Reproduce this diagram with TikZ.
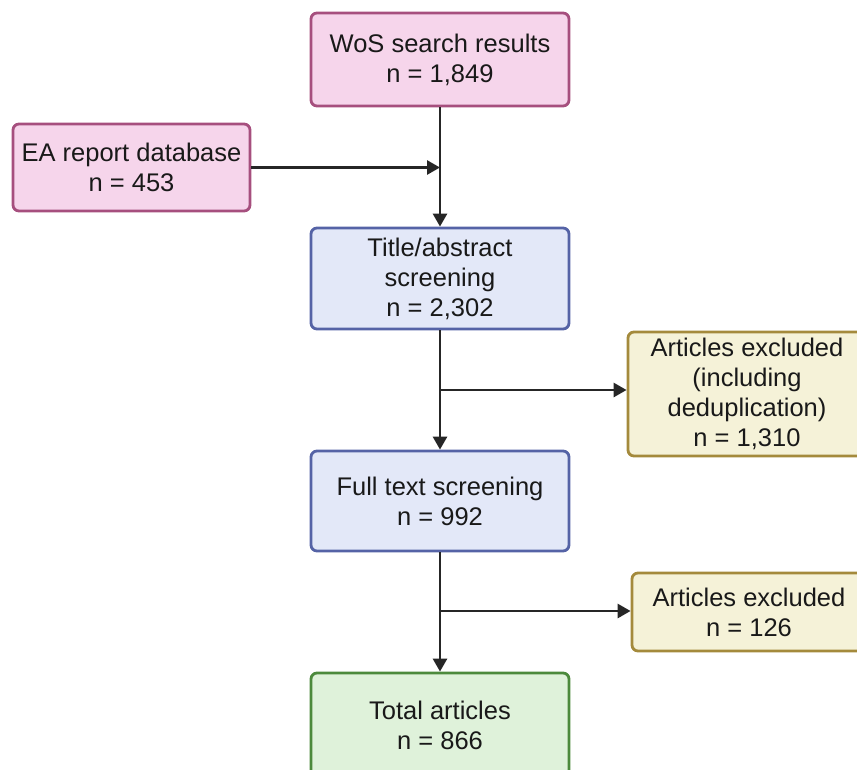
\documentclass[tikz,border=0pt]{standalone}
\usepackage{fontspec}
\setmainfont{Liberation Sans}
\usetikzlibrary{arrows.meta}
\definecolor{pinkfill}{HTML}{F6D5EB}
\definecolor{pinkdraw}{HTML}{A64F7E}
\definecolor{bluefill}{HTML}{E3E8F8}
\definecolor{bluedraw}{HTML}{5563A6}
\definecolor{yelfill}{HTML}{F5F2D8}
\definecolor{yeldraw}{HTML}{A48A3C}
\definecolor{grnfill}{HTML}{DFF2DA}
\definecolor{grndraw}{HTML}{4C8A3C}
\definecolor{linec}{HTML}{262626}
\tikzset{
  box/.style={draw, line width=2.8pt, rounded corners=6pt, align=center, inner sep=0pt,
    font=\fontsize{25.5}{30}\selectfont, text=black!90},
  pinkbox/.style={box, fill=pinkfill, draw=pinkdraw},
  bluebox/.style={box, fill=bluefill, draw=bluedraw},
  yelbox/.style={box, fill=yelfill, draw=yeldraw},
  grnbox/.style={box, fill=grnfill, draw=grndraw},
  conn/.style={draw=linec, line width=2.8pt, -{Triangle[length=13pt,width=14pt]}}
}
\begin{document}
\begin{tikzpicture}[x=1pt,y=-1pt]
\useasboundingbox (0,0) rectangle (857,769);
\clip (0,0) rectangle (857,769);
\node[pinkbox, minimum width=258pt, minimum height=93pt] (wos) at (440,59.5) {WoS search results\\n = 1,849};
\node[pinkbox, minimum width=237pt, minimum height=87pt] (ea) at (131.5,167.5) {EA report database\\n = 453};
\node[bluebox, minimum width=258pt, minimum height=101pt] (title) at (440,278.5) {Title/abstract\\screening\\n = 2,302};
\node[yelbox, minimum width=238pt, minimum height=124pt] (exc1) at (747,394) {Articles excluded\\(including\\deduplication)\\n = 1,310};
\node[bluebox, minimum width=258pt, minimum height=100pt] (full) at (440,501) {Full text screening\\n = 992};
\node[yelbox, minimum width=234pt, minimum height=78pt] (exc2) at (749,612) {Articles excluded\\n = 126};
\node[grnbox, minimum width=258pt, minimum height=104pt] (tot) at (440,725) {Total articles\\n = 866};
\path[conn] (wos.south) -- (title.north);
\path[conn] (ea.east) -- (ea.east -| wos.south);
\path[conn] (title.south) -- (full.north);
\path[conn] (title.south |- 0,390) coordinate (b1) -- (exc1.west |- b1);
\path[conn] (full.south) -- (tot.north);
\path[conn] (full.south |- 0,611) coordinate (b2) -- (exc2.west |- b2);
\end{tikzpicture}
\end{document}
